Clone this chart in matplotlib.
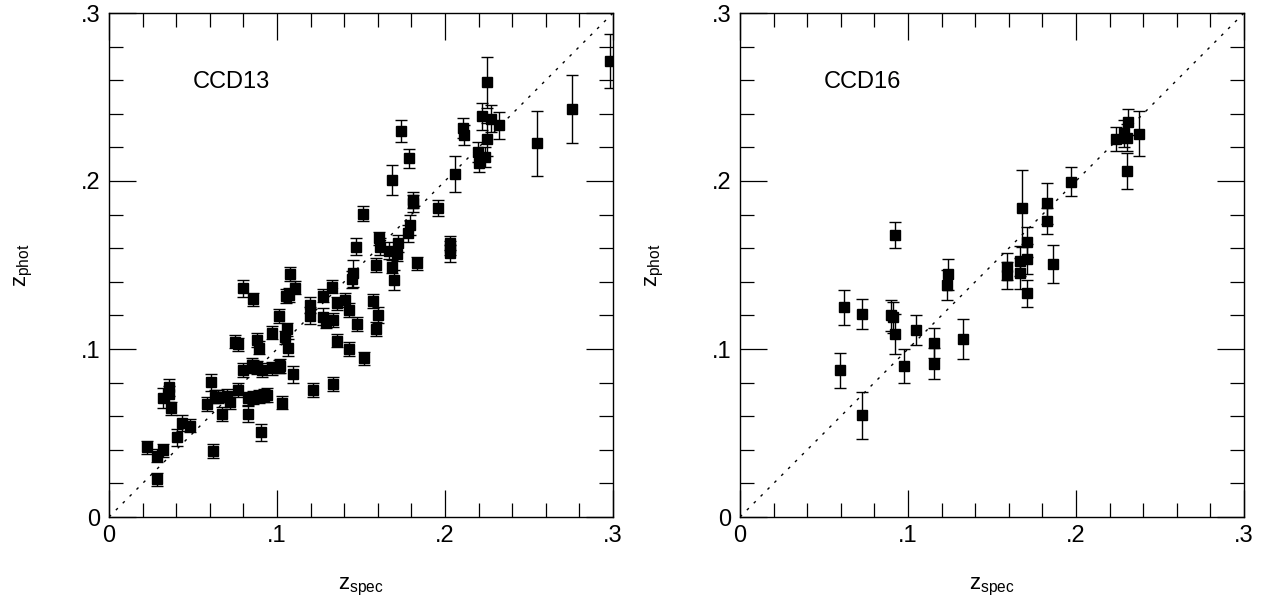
import numpy as np
import matplotlib.pyplot as plt
from matplotlib.ticker import MultipleLocator, FuncFormatter

plt.rcParams['font.family'] = ['Liberation Sans', 'DejaVu Sans']
plt.rcParams['mathtext.fontset'] = 'custom'
plt.rcParams['mathtext.rm'] = 'Liberation Sans'

# CCD13: z_spec, z_phot, error on z_phot
zs13 = [0.0224, 0.0284, 0.0323, 0.0288, 0.0323, 0.0359, 0.0359, 0.0371, 0.0407, 0.0435,
        0.0482, 0.0617, 0.0585, 0.0605, 0.0631, 0.0650, 0.0671, 0.0700, 0.0720, 0.0770,
        0.0750, 0.0770, 0.0800, 0.0859, 0.0800, 0.0829, 0.0829, 0.0859, 0.0879, 0.0895,
        0.0849, 0.0879, 0.0903, 0.0910, 0.0890, 0.0920, 0.0940, 0.0968, 0.0970, 0.1014,
        0.1010, 0.1020, 0.1028, 0.1058, 0.1048, 0.1067, 0.1077, 0.1054, 0.1073, 0.1107,
        0.1097, 0.1196, 0.1196, 0.1212, 0.1276, 0.1272, 0.1292, 0.1325, 0.1331, 0.1331,
        0.1359, 0.1355, 0.1405, 0.1431, 0.1431, 0.1454, 0.1448, 0.1474, 0.1520, 0.1573,
        0.1603, 0.1589, 0.1589, 0.1683, 0.1696, 0.1835, 0.2030, 0.2030, 0.2030, 0.1738,
        0.1788, 0.1686, 0.1514, 0.1470, 0.1609, 0.1613, 0.1668, 0.1712, 0.1722, 0.1782,
        0.1792, 0.1812, 0.1812, 0.1956, 0.2060, 0.2109, 0.2113, 0.2194, 0.2204, 0.2218,
        0.2248, 0.2274, 0.2248, 0.2238, 0.2323, 0.2550, 0.2758, 0.2982, 0.0859]
zp13 = [0.0415, 0.0365, 0.0397, 0.0224, 0.0706, 0.0772, 0.0732, 0.0647, 0.0474, 0.0560,
        0.0544, 0.0393, 0.0673, 0.0802, 0.0716, 0.0716, 0.0613, 0.0722, 0.0685, 0.0756,
        0.1044, 0.1028, 0.1361, 0.1296, 0.0875, 0.0706, 0.0613, 0.0712, 0.1054, 0.1008,
        0.0905, 0.0890, 0.0504, 0.0875, 0.0716, 0.0722, 0.0726, 0.1097, 0.0885, 0.1196,
        0.0895, 0.0899, 0.0680, 0.1117, 0.1069, 0.1008, 0.1446, 0.1315, 0.1321, 0.1365,
        0.0849, 0.1262, 0.1198, 0.0756, 0.1317, 0.1192, 0.1163, 0.1371, 0.1173, 0.0792,
        0.1050, 0.1272, 0.1292, 0.1232, 0.1000, 0.1450, 0.1415, 0.1149, 0.0944, 0.1286,
        0.1202, 0.1119, 0.1500, 0.1490, 0.1411, 0.1510, 0.1570, 0.1600, 0.1630, 0.2298,
        0.2135, 0.2006, 0.1804, 0.1609, 0.1659, 0.1609, 0.1585, 0.1565, 0.1629, 0.1689,
        0.1738, 0.1887, 0.1867, 0.1837, 0.2042, 0.2313, 0.2274, 0.2175, 0.2105, 0.2385,
        0.2587, 0.2371, 0.2248, 0.2145, 0.2331, 0.2224, 0.2429, 0.2714, 0.0895]
ep13 = [0.004, 0.004, 0.004, 0.004, 0.006, 0.005, 0.005, 0.004, 0.005, 0.005,
        0.004, 0.004, 0.004, 0.005, 0.004, 0.004, 0.004, 0.004, 0.004, 0.004,
        0.004, 0.004, 0.005, 0.004, 0.004, 0.004, 0.005, 0.004, 0.004, 0.004,
        0.004, 0.004, 0.005, 0.004, 0.004, 0.004, 0.004, 0.004, 0.004, 0.004,
        0.004, 0.004, 0.004, 0.004, 0.004, 0.005, 0.004, 0.004, 0.004, 0.004,
        0.005, 0.005, 0.005, 0.004, 0.004, 0.005, 0.004, 0.004, 0.004, 0.004,
        0.004, 0.004, 0.004, 0.004, 0.004, 0.008, 0.005, 0.004, 0.004, 0.004,
        0.005, 0.004, 0.004, 0.004, 0.006, 0.004, 0.005, 0.004, 0.004, 0.0065,
        0.0055, 0.009, 0.0045, 0.005, 0.004, 0.005, 0.005, 0.004, 0.005, 0.005,
        0.006, 0.005, 0.005, 0.0048, 0.0107, 0.006, 0.006, 0.006, 0.005, 0.008,
        0.015, 0.008, 0.010, 0.006, 0.008, 0.0195, 0.0204, 0.016, 0.004]

# CCD16
zs16 = [0.0621, 0.0597, 0.0724, 0.0724, 0.0923, 0.0899, 0.0913, 0.0923, 0.0976, 0.1048,
        0.1157, 0.1157, 0.1240, 0.1232, 0.1329, 0.1591, 0.1591, 0.1667, 0.1667, 0.1681,
        0.1710, 0.1710, 0.1710, 0.1829, 0.1829, 0.1865, 0.1968, 0.2238, 0.2286, 0.2312,
        0.2306, 0.2306, 0.2377]
zp16 = [0.1248, 0.0873, 0.1206, 0.0605, 0.1679, 0.1200, 0.1188, 0.1089, 0.0899, 0.1113,
        0.1034, 0.0913, 0.1444, 0.1381, 0.1060, 0.1490, 0.1440, 0.1526, 0.1450, 0.1837,
        0.1639, 0.1534, 0.1331, 0.1867, 0.1762, 0.1504, 0.1996, 0.2250, 0.2284, 0.2351,
        0.2258, 0.2060, 0.2280]
ep16 = [0.0106, 0.0104, 0.0089, 0.0138, 0.0079, 0.009, 0.009, 0.012, 0.010, 0.0087,
        0.009, 0.009, 0.009, 0.009, 0.0119, 0.008, 0.008, 0.009, 0.009, 0.023,
        0.009, 0.009, 0.008, 0.012, 0.008, 0.0114, 0.0087, 0.0072, 0.008, 0.008,
        0.008, 0.0106, 0.0134]

panels = [(zs13, zp13, ep13, 'CCD13'), (zs16, zp16, ep16, 'CCD16')]
lefts = [109 / 1267, 740 / 1267]

fig = plt.figure(figsize=(12.67, 6.05), dpi=100)


def fmt(v, pos):
    if abs(v) < 1e-9:
        return '0'
    return ('%.1f' % v).lstrip('0')


for (xs, ys, es, name), l in zip(panels, lefts):
    ax = fig.add_axes([l, 88 / 605, 504 / 1267, 504 / 605])
    ax.plot([0, 0.3], [0, 0.3], color='black', lw=1.0, ls=(0, (2, 5)))
    ax.errorbar(xs, ys, yerr=es, fmt='s', color='black', ms=6.5,
                elinewidth=1.0, capsize=4.5, capthick=1.0)
    ax.set_xlim(0, 0.3)
    ax.set_ylim(0, 0.3)
    for a in (ax.xaxis, ax.yaxis):
        a.set_major_locator(MultipleLocator(0.1))
        a.set_minor_locator(MultipleLocator(0.02))
        a.set_major_formatter(FuncFormatter(fmt))
    ax.tick_params(which='both', direction='in', top=True, right=True,
                   labelsize=17, width=0.9)
    ax.tick_params(which='major', length=19.5, pad=6)
    ax.tick_params(which='minor', length=9.8)
    for s in ax.spines.values():
        s.set_linewidth(1.0)
    ax.text(0.05, 0.259, name, fontsize=17, va='center', ha='left')
    ax.text(0.5, -0.139, r'$\mathrm{z}_{\mathrm{spec}}$', fontsize=16,
            transform=ax.transAxes, ha='center', va='center')
    ax.text(-0.168, 0.5, r'$\mathrm{z}_{\mathrm{phot}}$', fontsize=16,
            transform=ax.transAxes, ha='center', va='center', rotation=90)

fig.savefig('out.png', dpi=100)
